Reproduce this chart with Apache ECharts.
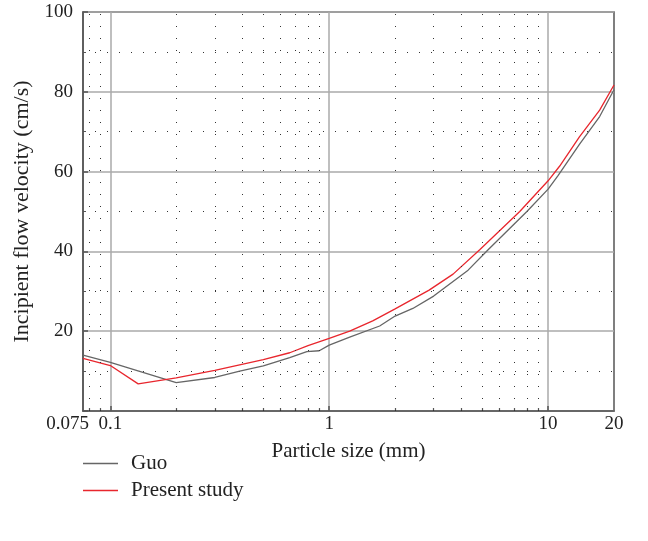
<!DOCTYPE html>
<html>
<head>
<meta charset="utf-8">
<script src="https://cdn.jsdelivr.net/npm/echarts@6/dist/echarts.min.js"></script>
<style>
  html, body { margin: 0; padding: 0; background: #fff; }
  #chart { width: 648px; height: 541px; }
</style>
</head>
<body>
<div id="chart"></div>
<script>
// particle size (mm) / incipient velocity (cm/s)
const guoSize = [0.075, 0.1, 0.2, 0.3, 0.39, 0.5, 0.66, 0.79, 0.9, 1.0, 1.24, 1.7, 2.0, 2.41, 3.0, 4.31, 5.32, 8.0, 10, 11.1, 13.9, 17.2, 20];
const guoVel = [14.0, 12.2, 7.1, 8.4, 10.0, 11.3, 13.4, 14.9, 15.1, 16.5, 18.5, 21.3, 23.8, 25.7, 28.8, 35.3, 40.4, 50.0, 55.6, 59.0, 66.8, 73.8, 80.5];

const presentSize = [0.075, 0.1, 0.134, 0.2, 0.3, 0.5, 0.66, 0.8, 1.0, 1.24, 1.58, 2.0, 2.86, 3.68, 4.87, 7.42, 10, 11.3, 13.9, 17.2, 20];
const presentVel = [13.2, 11.4, 6.8, 8.3, 10.2, 12.9, 14.6, 16.4, 18.2, 20.0, 22.6, 25.6, 30.3, 34.3, 40.4, 50.0, 57.7, 61.4, 68.7, 75.4, 81.7];

// tick values on the log axis
const xLabels = [0.075, 0.1, 1, 10, 20];
const xMajor = [0.1, 1, 10];
const minorX = [0.08, 0.09, 0.2, 0.3, 0.4, 0.5, 0.6, 0.7, 0.8, 0.9, 2, 3, 4, 5, 6, 7, 8, 9];

const font = "Liberation Serif";
const ink = "#222";
const zip = (xs, ys) => xs.map((x, i) => [x, ys[i]]);

const chart = echarts.init(document.getElementById("chart"));

chart.setOption({
  animation: false,
  backgroundColor: "#fff",
  textStyle: { fontFamily: font },
  grid: {
    left: 83, right: 34, top: 12, bottom: 130,
    show: true, borderColor: "#555", borderWidth: 1.5, backgroundColor: "transparent"
  },
  legend: {
    data: ["Guo", "Present study"],
    orient: "vertical",
    left: 83, top: 453,
    padding: 0,
    icon: "rect",
    itemWidth: 35, itemHeight: 1.3, itemGap: 6,
    textStyle: { fontFamily: font, fontSize: 21, color: ink, padding: [0, 0, 0, 8] }
  },
  xAxis: [
    {
      type: "log",
      logBase: 10,
      min: 0.075,
      max: 20,
      name: "Particle size (mm)",
      nameLocation: "middle",
      nameGap: 30,
      nameTextStyle: { fontFamily: font, fontSize: 21, color: ink },
      axisLine: { lineStyle: { color: "#555", width: 1.5 } },
      axisTick: { inside: true, length: 5, customValues: xMajor, lineStyle: { color: "#555", width: 1.5 } },
      axisLabel: {
        fontFamily: font, fontSize: 19, color: ink, margin: 4,
        customValues: xLabels,
        showMinLabel: true, showMaxLabel: true,
        // the first label sits left of the axis start, as in the source figure
        formatter: v => (v < 0.09 ? "{lo|" + v + "}" : String(v)),
        rich: { lo: { fontFamily: font, fontSize: 19, color: ink, padding: [0, 31, 0, 0] } }
      },
      splitLine: { show: true, lineStyle: { color: "#aaa", width: 1.5 } }
    },
    {
      // minor ticks only
      type: "log",
      logBase: 10,
      min: 0.075,
      max: 20,
      position: "bottom",
      axisLine: { show: false },
      axisTick: { inside: true, length: 3, customValues: minorX, lineStyle: { color: "#555", width: 1.2 } },
      axisLabel: { show: false },
      splitLine: { show: false }
    }
  ],
  yAxis: {
    type: "value",
    min: 0,
    max: 100,
    interval: 20,
    name: "Incipient flow velocity (cm/s)",
    nameLocation: "middle",
    nameGap: 48,
    nameTextStyle: { fontFamily: font, fontSize: 22, color: ink },
    axisLine: { show: true, lineStyle: { color: "#555", width: 1.5 } },
    axisTick: { inside: true, length: 5, lineStyle: { color: "#555", width: 1.5 } },
    minorTick: { show: true, splitNumber: 2, length: 3, lineStyle: { color: "#555" } },
    axisLabel: { fontFamily: font, fontSize: 19, color: ink, margin: 10, formatter: v => (v === 0 ? "" : String(v)) },
    splitLine: { show: true, lineStyle: { color: "#aaa", width: 1.5 } },
    minorSplitLine: { show: true, lineStyle: { color: "#333", width: 1, type: [1, 11] } }
  },
  series: [
    {
      name: "grid",
      type: "line",
      data: [],
      silent: true,
      z: 1,
      markLine: {
        silent: true,
        symbol: "none",
        animation: false,
        label: { show: false },
        lineStyle: { color: "#333", width: 1, type: [1, 11] },
        data: minorX.map(v => ({ xAxis: v }))
      }
    },
    {
      name: "Guo",
      type: "line",
      data: zip(guoSize, guoVel),
      symbol: "none",
      z: 3,
      lineStyle: { color: "#666", width: 1.3 },
      itemStyle: { color: "#666" }
    },
    {
      name: "Present study",
      type: "line",
      data: zip(presentSize, presentVel),
      symbol: "none",
      z: 4,
      lineStyle: { color: "#e8262d", width: 1.3 },
      itemStyle: { color: "#e8262d" }
    }
  ]
});
</script>
</body>
</html>
